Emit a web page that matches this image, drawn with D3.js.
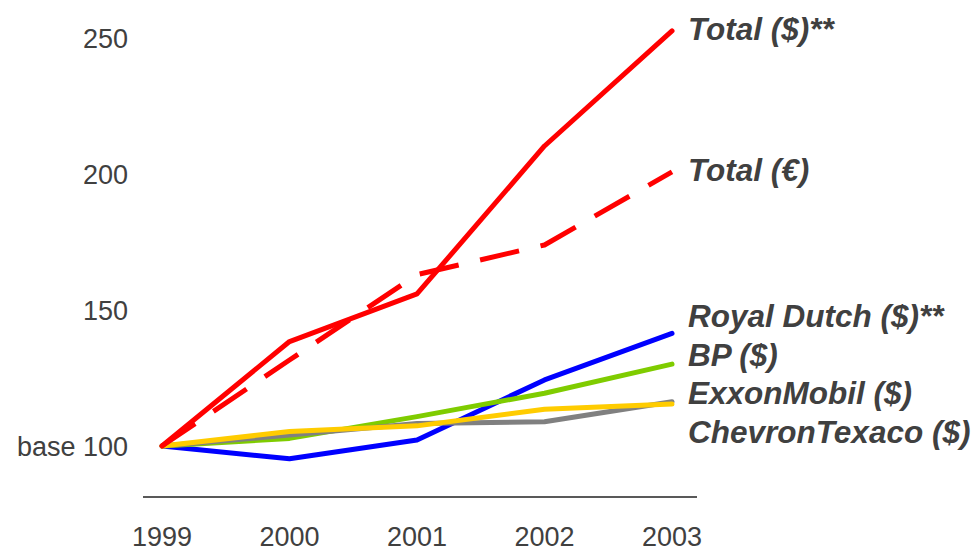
<!DOCTYPE html>
<html>
<head>
<meta charset="utf-8">
<script src="https://cdn.jsdelivr.net/npm/d3@7"></script>
<style>
  html, body { margin: 0; padding: 0; background: #fff; }
  svg { display: block; }
</style>
</head>
<body>
<svg id="chart" width="976" height="552"></svg>
<script>
// ---- data ----
const years = [1999, 2000, 2001, 2002, 2003];
const yTicks = [100, 150, 200, 250];
const yTickLabels = ["base 100", "150", "200", "250"];

const seriesNames = ["Royal Dutch ($)**", "BP ($)", "ExxonMobil ($)", "ChevronTexaco ($)", "Total ($)**", "Total (€)"];
const royalDutch = [100, 95.3, 102.2, 124.3, 141.4];
const bp         = [100, 102.8, 110.8, 119.4, 130.1];
const exxonMobil = [100, 104.0, 108.3, 108.9, 116.3];
const chevron    = [100, 105.3, 107.4, 113.5, 115.4];
const totalUsd   = [100, 138.4, 155.9, 210.3, 252.6];
const totalEur   = [100, 131.6, 163.0, 173.9, 200.8];
const seriesColors = ["#0000ff", "#7fcc00", "#808080", "#ffcc00", "#ff0000", "#ff0000"];
const seriesDashed = [false, false, false, false, false, true];

const seriesValues = [royalDutch, bp, exxonMobil, chevron, totalUsd, totalEur];
const drawOrder = [0, 1, 2, 3, 4, 5];

// ---- layout ----
const svg = d3.select("#chart");
const x = d3.scaleLinear().domain([1999, 2003]).range([162, 672]);
const y = d3.scaleLinear().domain([100, 250]).range([446, 38]);

const textColor = "#404040";

svg.append("line")
  .attr("x1", 143).attr("x2", 697)
  .attr("y1", 497).attr("y2", 497)
  .attr("stroke", "#595959").attr("stroke-width", 2);

svg.append("g").selectAll("text").data(years).join("text")
  .attr("x", d => x(d))
  .attr("y", 546)
  .attr("text-anchor", "middle")
  .attr("font-family", "Liberation Sans, Arial, sans-serif")
  .attr("font-size", 27)
  .attr("fill", textColor)
  .text(d => d);

svg.append("g").selectAll("text").data(yTicks).join("text")
  .attr("x", 128)
  .attr("y", d => y(d))
  .attr("dy", "0.36em")
  .attr("text-anchor", "end")
  .attr("font-family", "Liberation Sans, Arial, sans-serif")
  .attr("font-size", 27)
  .attr("fill", textColor)
  .text((d, i) => yTickLabels[i]);

const line = d3.line().x((d, i) => x(years[i])).y(d => y(d));
const g = svg.append("g");
drawOrder.forEach(i => {
  g.append("path")
    .attr("d", line(seriesValues[i]))
    .attr("fill", "none")
    .attr("stroke", seriesColors[i])
    .attr("stroke-width", 5)
    .attr("stroke-linejoin", "round")
    .attr("stroke-linecap", seriesDashed[i] ? "butt" : "round")
    .attr("stroke-dasharray", seriesDashed[i] ? "40,22" : null);
});

// end labels with simple dodge
const spacing = 38.5;
let items = seriesValues.map((v, i) => ({ i, desired: y(v[v.length - 1]) - 3 }))
  .sort((a, b) => a.desired - b.desired);
let clusters = items.map(it => ({ items: [it], center: it.desired }));
let changed = true;
while (changed) {
  changed = false;
  for (let k = 0; k < clusters.length - 1; k++) {
    const a = clusters[k], b = clusters[k + 1];
    const aBottom = a.center + (a.items.length - 1) * spacing / 2;
    const bTop = b.center - (b.items.length - 1) * spacing / 2;
    if (bTop - aBottom < spacing) {
      const its = a.items.concat(b.items);
      const c = d3.mean(its, d => d.desired);
      clusters.splice(k, 2, { items: its, center: c });
      changed = true;
      break;
    }
  }
}
const labelPos = {};
clusters.forEach(c => {
  const n = c.items.length;
  c.items.forEach((it, j) => {
    labelPos[it.i] = c.center + (j - (n - 1) / 2) * spacing;
  });
});

svg.append("g").selectAll("text").data(seriesNames).join("text")
  .attr("x", 688)
  .attr("y", (d, i) => labelPos[i])
  .attr("dy", "0.38em")
  .attr("font-family", "Liberation Sans, Arial, sans-serif")
  .attr("font-size", 31.5)
  .attr("font-weight", "bold")
  .attr("font-style", "italic")
  .attr("fill", textColor)
  .text(d => d);
</script>
</body>
</html>
